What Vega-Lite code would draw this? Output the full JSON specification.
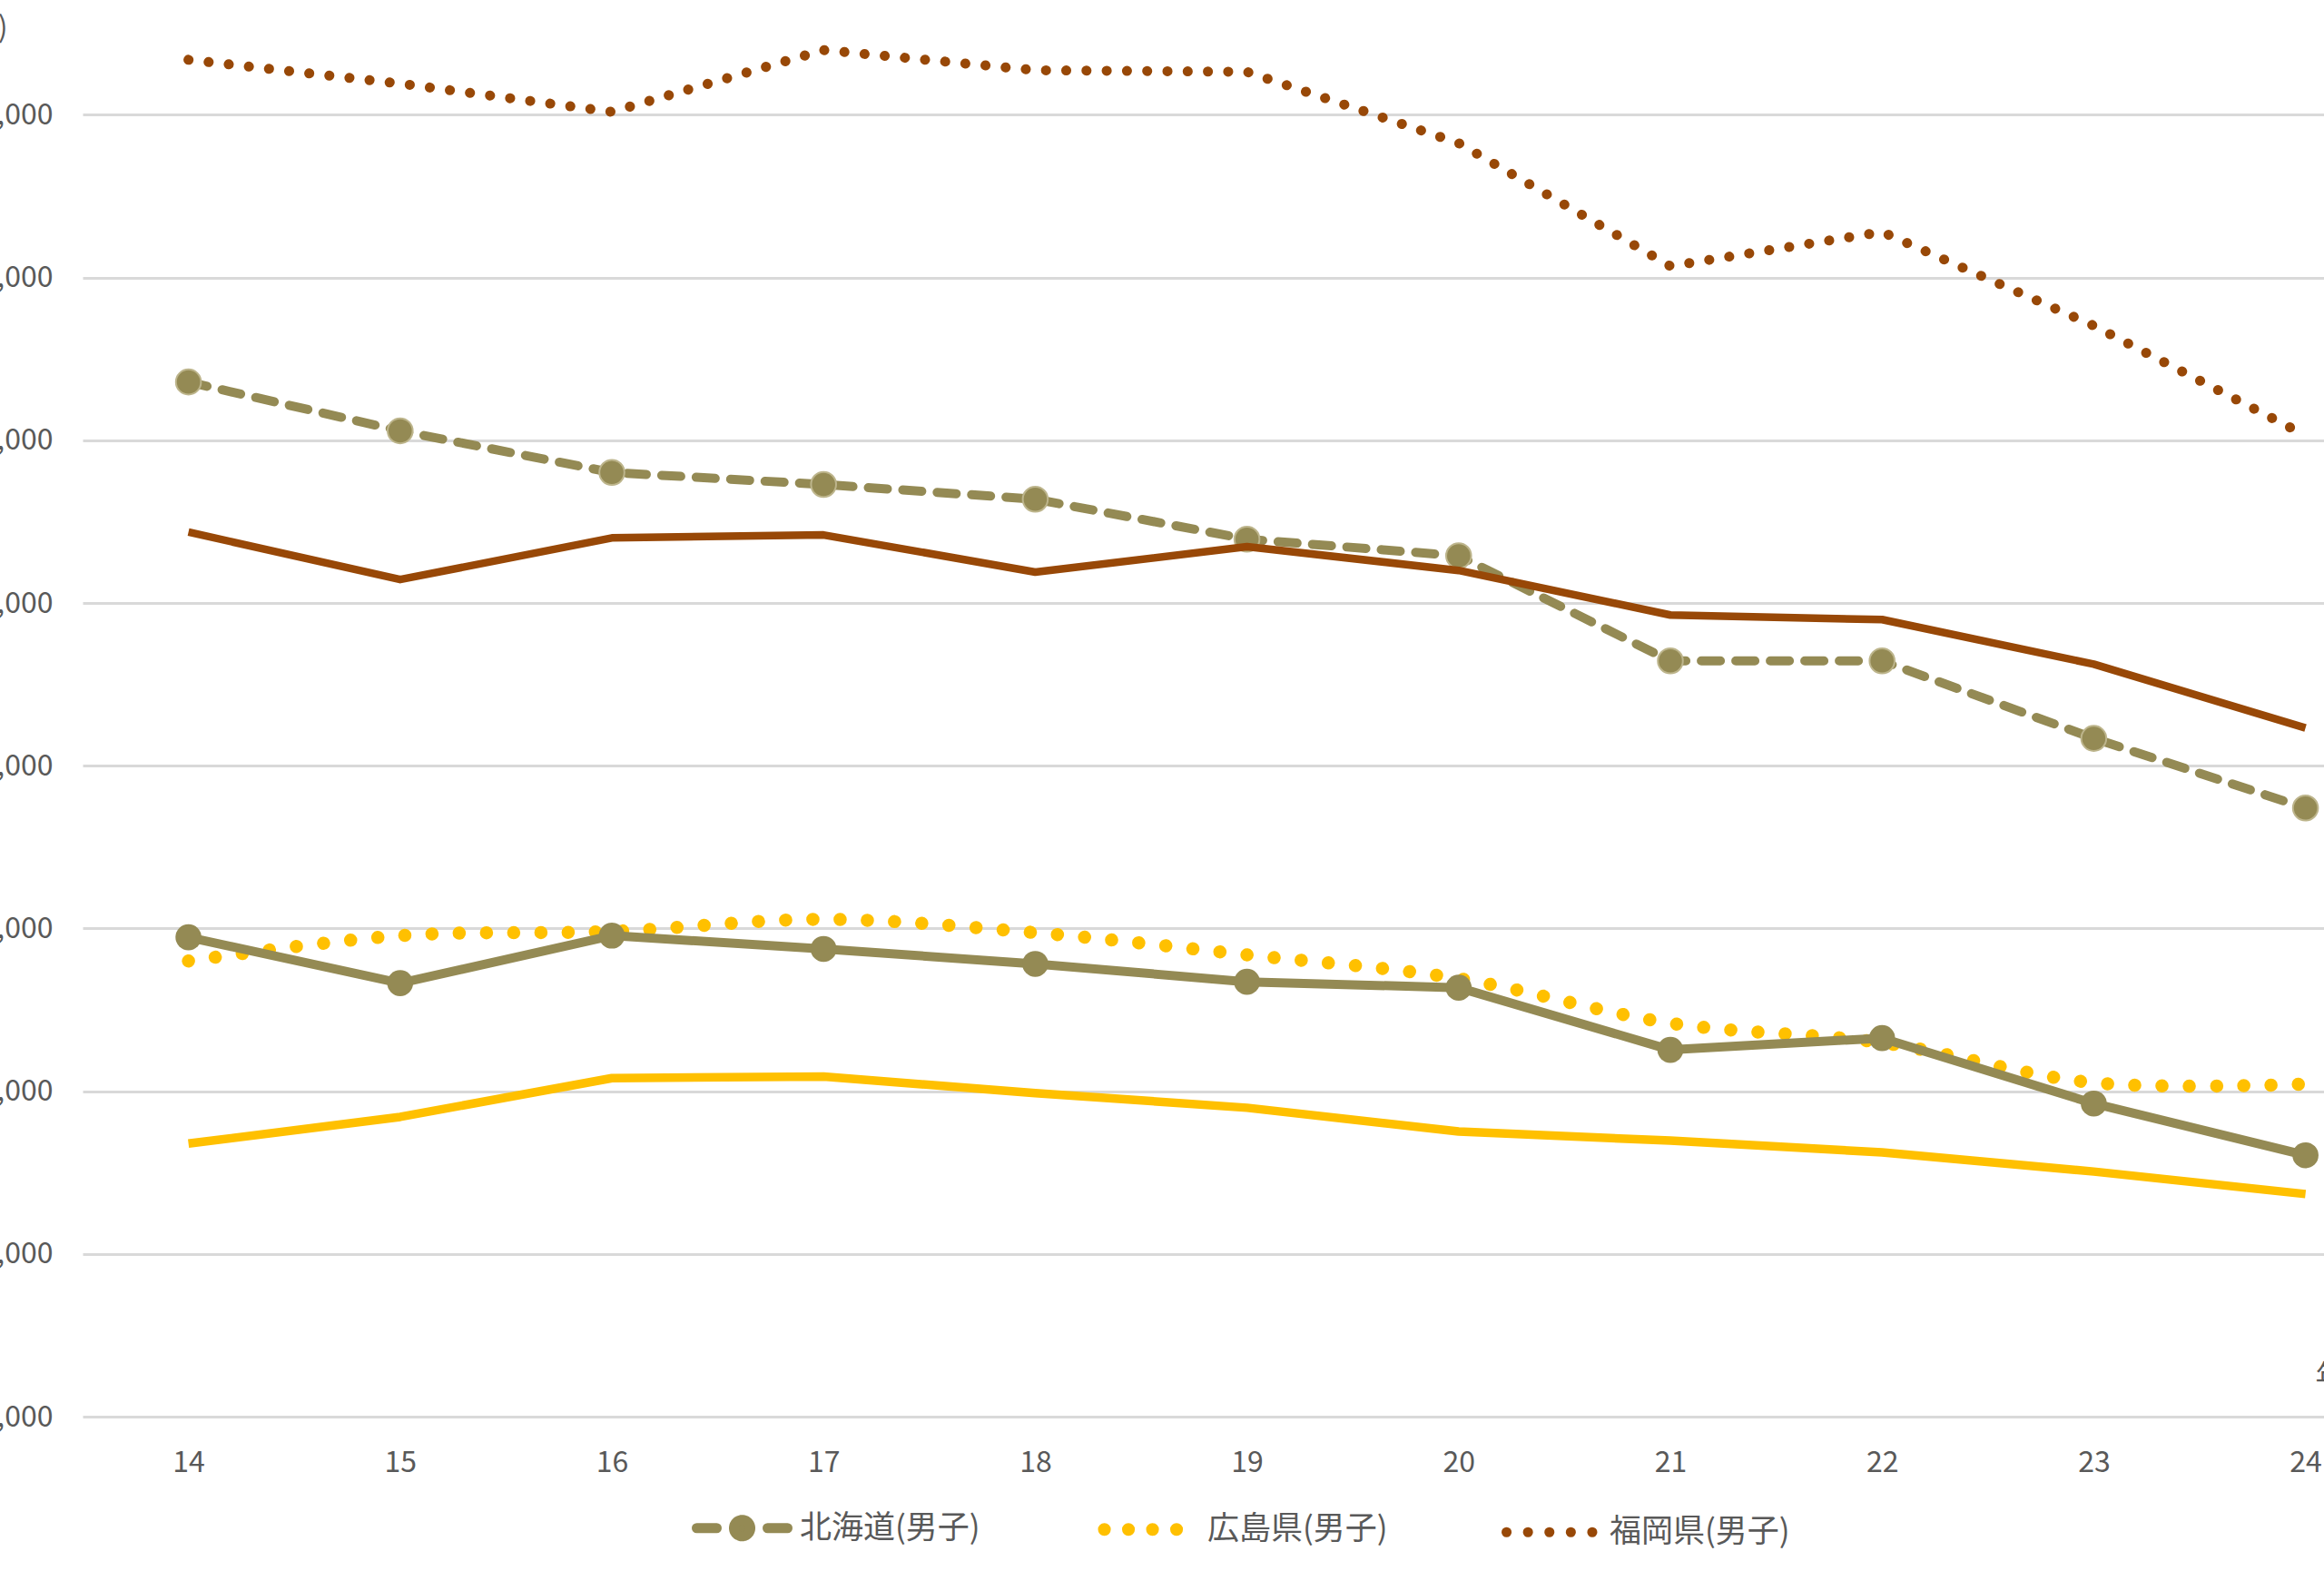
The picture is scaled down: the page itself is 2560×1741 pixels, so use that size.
{
  "$schema": "https://vega.github.io/schema/vega-lite/v6.json",
  "autosize": {"type": "none"},
  "width": 2469,
  "height": 1560,
  "padding": {"left": 91, "top": 0, "right": 0, "bottom": 181},
  "background": "white",
  "config": {"view": {"stroke": null}, "font": "Noto Sans CJK JP"},
  "data": {"values": [
    {"year": 14, "series": "北海道(男子)", "value": 41790},
    {"year": 15, "series": "北海道(男子)", "value": 40290},
    {"year": 16, "series": "北海道(男子)", "value": 39010},
    {"year": 17, "series": "北海道(男子)", "value": 38640},
    {"year": 18, "series": "北海道(男子)", "value": 38190},
    {"year": 19, "series": "北海道(男子)", "value": 36960},
    {"year": 20, "series": "北海道(男子)", "value": 36450},
    {"year": 21, "series": "北海道(男子)", "value": 33220},
    {"year": 22, "series": "北海道(男子)", "value": 33220},
    {"year": 23, "series": "北海道(男子)", "value": 30840},
    {"year": 24, "series": "北海道(男子)", "value": 28700},
    {"year": 14, "series": "広島県(男子)", "value": 24000},
    {"year": 15, "series": "広島県(男子)", "value": 24780},
    {"year": 16, "series": "広島県(男子)", "value": 24910},
    {"year": 17, "series": "広島県(男子)", "value": 25280},
    {"year": 18, "series": "広島県(男子)", "value": 24870},
    {"year": 19, "series": "広島県(男子)", "value": 24190},
    {"year": 20, "series": "広島県(男子)", "value": 23460},
    {"year": 21, "series": "広島県(男子)", "value": 22090},
    {"year": 22, "series": "広島県(男子)", "value": 21490},
    {"year": 23, "series": "広島県(男子)", "value": 20260},
    {"year": 24, "series": "広島県(男子)", "value": 20220},
    {"year": 14, "series": "福岡県(男子)", "value": 51690},
    {"year": 15, "series": "福岡県(男子)", "value": 50960},
    {"year": 16, "series": "福岡県(男子)", "value": 50090},
    {"year": 17, "series": "福岡県(男子)", "value": 51990},
    {"year": 18, "series": "福岡県(男子)", "value": 51370},
    {"year": 19, "series": "福岡県(男子)", "value": 51320},
    {"year": 20, "series": "福岡県(男子)", "value": 49130},
    {"year": 21, "series": "福岡県(男子)", "value": 45350},
    {"year": 22, "series": "福岡県(男子)", "value": 46400},
    {"year": 23, "series": "福岡県(男子)", "value": 43520},
    {"year": 24, "series": "福岡県(男子)", "value": 40150},
    {"year": 14, "series": "北海道(女子)", "value": 24730},
    {"year": 15, "series": "北海道(女子)", "value": 23320},
    {"year": 16, "series": "北海道(女子)", "value": 24780},
    {"year": 17, "series": "北海道(女子)", "value": 24370},
    {"year": 18, "series": "北海道(女子)", "value": 23910},
    {"year": 19, "series": "北海道(女子)", "value": 23360},
    {"year": 20, "series": "北海道(女子)", "value": 23180},
    {"year": 21, "series": "北海道(女子)", "value": 21270},
    {"year": 22, "series": "北海道(女子)", "value": 21630},
    {"year": 23, "series": "北海道(女子)", "value": 19620},
    {"year": 24, "series": "北海道(女子)", "value": 18030},
    {"year": 14, "series": "広島県(女子)", "value": 18390},
    {"year": 15, "series": "広島県(女子)", "value": 19210},
    {"year": 16, "series": "広島県(女子)", "value": 20400},
    {"year": 17, "series": "広島県(女子)", "value": 20450},
    {"year": 18, "series": "広島県(女子)", "value": 19940},
    {"year": 19, "series": "広島県(女子)", "value": 19490},
    {"year": 20, "series": "広島県(女子)", "value": 18760},
    {"year": 21, "series": "広島県(女子)", "value": 18480},
    {"year": 22, "series": "広島県(女子)", "value": 18120},
    {"year": 23, "series": "広島県(女子)", "value": 17530},
    {"year": 24, "series": "広島県(女子)", "value": 16840},
    {"year": 14, "series": "福岡県(女子)", "value": 37180},
    {"year": 15, "series": "福岡県(女子)", "value": 35720},
    {"year": 16, "series": "福岡県(女子)", "value": 37000},
    {"year": 17, "series": "福岡県(女子)", "value": 37090},
    {"year": 18, "series": "福岡県(女子)", "value": 35950},
    {"year": 19, "series": "福岡県(女子)", "value": 36730},
    {"year": 20, "series": "福岡県(女子)", "value": 36000},
    {"year": 21, "series": "福岡県(女子)", "value": 34630},
    {"year": 22, "series": "福岡県(女子)", "value": 34490},
    {"year": 23, "series": "福岡県(女子)", "value": 33120},
    {"year": 24, "series": "福岡県(女子)", "value": 31160}
  ]},
  "encoding": {
    "x": {
      "field": "year", "type": "quantitative",
      "scale": {"domain": [13.5, 24.0875], "nice": false, "zero": false},
      "axis": {
        "values": [14, 15, 16, 17, 18, 19, 20, 21, 22, 23, 24],
        "format": "d", "grid": false, "ticks": false, "domain": false,
        "labelFontSize": 32, "labelColor": "#595959", "labelPadding": 35,
        "labelFlush": false, "labelOverlap": false,
        "title": "年", "titleFontSize": 32, "titleFontWeight": "normal", "titleColor": "#595959",
        "titleX": 2459, "titleY": -35, "titleAlign": "left", "titleBaseline": "alphabetic", "titleAnchor": "start"
      }
    },
    "y": {
      "field": "value", "type": "quantitative",
      "scale": {"domain": [10000, 53527], "nice": false, "zero": false},
      "axis": {
        "values": [10000, 15000, 20000, 25000, 30000, 35000, 40000, 45000, 50000],
        "format": ",d", "grid": true, "gridColor": "#D9D9D9", "gridWidth": 3,
        "ticks": false, "domain": false,
        "labelFontSize": 32, "labelColor": "#595959", "labelPadding": 33,
        "title": "(人)", "titleAngle": 0, "titleFontSize": 32, "titleFontWeight": "normal", "titleColor": "#595959",
        "titleX": -83, "titleY": 30, "titleAlign": "right", "titleBaseline": "middle"
      }
    }
  },
  "layer": [
    {
      "transform": [{"filter": "datum.series === '北海道(男子)'"}],
      "mark": {"type": "line", "strokeWidth": 10, "strokeDash": [21, 17], "strokeCap": "round", "strokeJoin": "round"},
      "encoding": {
        "color": {
          "field": "series", "type": "nominal",
          "scale": {"domain": ["北海道(男子)", "広島県(男子)", "福岡県(男子)"], "range": ["#948A54", "#FFC000", "#984807"]},
          "legend": {
            "orient": "none", "legendX": 709, "legendY": 1665, "direction": "horizontal", "title": null,
            "symbolType": "stroke", "symbolSize": 10000, "symbolStrokeWidth": 11,
            "labelFontSize": 35, "labelColor": "#595959", "labelOffset": 46, "labelLimit": 500,
            "columnPadding": 108, "padding": 0, "symbolLimit": 0,
            "encode": {"symbols": {"update": {
              "shape": {"signal": "datum.value === '北海道(男子)' ? 'M-1,0H-0.56M0.56,0H1M0.18,0A0.18,0.18,0,1,1,-0.18,0A0.18,0.18,0,1,1,0.18,0Z' : 'stroke'"},
              "fill": {"signal": "datum.value === '北海道(男子)' ? '#948A54' : 'transparent'"},
              "strokeDash": {"signal": "datum.value === '北海道(男子)' ? [1, 0] : (datum.value === '広島県(男子)' ? [0.1, 26.4] : [0.1, 23.5])"},
              "strokeCap": {"value": "round"},
              "strokeWidth": {"signal": "datum.value === '広島県(男子)' ? 14 : 11"}
            }}}
          }
        }
      }
    },
    {
      "transform": [{"filter": "datum.series === '北海道(男子)'"}],
      "mark": {"type": "point", "filled": true, "size": 760, "fill": "#948A54", "stroke": "#BDB58C", "strokeWidth": 2, "opacity": 1}
    },
    {
      "transform": [{"filter": "datum.series === '広島県(男子)'"}],
      "mark": {"type": "line", "strokeWidth": 14.5, "strokeDash": [0.1, 29.9], "strokeCap": "round", "interpolate": "catmull-rom"},
      "encoding": {"color": {"field": "series", "type": "nominal"}}
    },
    {
      "transform": [{"filter": "datum.series === '福岡県(男子)'"}],
      "mark": {"type": "line", "strokeWidth": 11, "strokeDash": [0.1, 22.2], "strokeCap": "round"},
      "encoding": {"color": {"field": "series", "type": "nominal"}}
    },
    {
      "transform": [{"filter": "datum.series === '北海道(女子)'"}],
      "mark": {"type": "line", "strokeWidth": 10, "color": "#948A54", "strokeJoin": "round"}
    },
    {
      "transform": [{"filter": "datum.series === '北海道(女子)'"}],
      "mark": {"type": "point", "filled": true, "size": 820, "fill": "#948A54", "strokeWidth": 0, "opacity": 1}
    },
    {
      "transform": [{"filter": "datum.series === '広島県(女子)'"}],
      "mark": {"type": "line", "strokeWidth": 9.5, "color": "#FFC000", "strokeJoin": "round"}
    },
    {
      "transform": [{"filter": "datum.series === '福岡県(女子)'"}],
      "mark": {"type": "line", "strokeWidth": 8.5, "color": "#984807", "strokeJoin": "round"}
    }
  ]
}
